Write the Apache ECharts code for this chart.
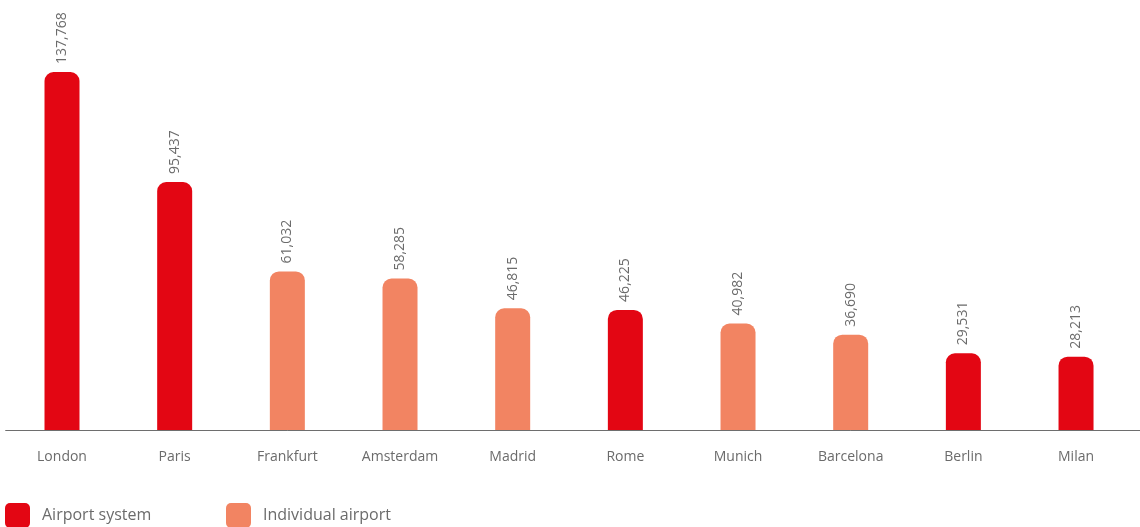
<!DOCTYPE html>
<html>
<head>
<meta charset="utf-8">
<style>
  html, body { margin: 0; padding: 0; background: #fff; }
  #chart { width: 1140px; height: 527px; }
</style>
<script src="https://cdn.jsdelivr.net/npm/echarts@6/dist/echarts.min.js"></script>
</head>
<body>
<div id="chart"></div>
<script>
// Passengers by city (thousands), ranked
const cities = ['London', 'Paris', 'Frankfurt', 'Amsterdam', 'Madrid', 'Rome', 'Munich', 'Barcelona', 'Berlin', 'Milan'];
const passengers = [137768, 95437, 61032, 58285, 46815, 46225, 40982, 36690, 29531, 28213];
// 'S' = airport system (several airports), 'I' = individual airport
const airportKind = ['S', 'S', 'I', 'I', 'I', 'S', 'I', 'I', 'S', 'S'];
const seriesNames = ['Airport system', 'Individual airport'];

const RED = '#e30613';
const SALMON = '#f28462';
const TEXT = '#6b6b6b';
const FONT = '"Open Sans", "Noto Sans", sans-serif';
const LEGEND_ICON = 'path://M5,0 H20 A5,5 0 0 1 25,5 V20 A5,5 0 0 1 20,25 H5 A5,5 0 0 1 0,20 V5 A5,5 0 0 1 5,0 Z';

const chart = echarts.init(document.getElementById('chart'), null, { renderer: 'canvas' });

function seriesFor(kind, name, color) {
  return {
    name: name,
    type: 'bar',
    stack: 'city',
    barWidth: 35,
    data: passengers.map((v, i) => airportKind[i] === kind ? v : '-'),
    itemStyle: { color: color, borderRadius: [9, 9, 0, 0] },
    label: {
      show: true,
      position: 'top',
      rotate: 90,
      align: 'left',
      verticalAlign: 'middle',
      distance: 8,
      color: TEXT,
      fontFamily: FONT,
      fontSize: 14,
      formatter: p => p.value.toLocaleString('en-US')
    }
  };
}

function legendFor(name, left) {
  return {
    data: [name],
    left: left,
    top: 503,
    padding: 0,
    itemWidth: 25,
    itemHeight: 25,
    icon: LEGEND_ICON,
    textStyle: { color: TEXT, fontFamily: FONT, fontSize: 16, padding: [0, 0, 0, 7] }
  };
}

const option = {
  animation: false,
  grid: { left: 5.67, width: 1126.7, top: 72, height: 358, containLabel: false },
  xAxis: {
    type: 'category',
    data: cities,
    axisLine: { show: true, lineStyle: { color: '#6e6e6e', width: 1 } },
    axisTick: { show: false },
    axisLabel: { color: TEXT, fontFamily: FONT, fontSize: 14, margin: 20 }
  },
  yAxis: {
    type: 'value',
    min: 0,
    max: value => value.max,
    show: false,
    splitLine: { show: false }
  },
  legend: [
    legendFor(seriesNames[0], 5),
    legendFor(seriesNames[1], 226)
  ],
  graphic: [
    {
      type: 'line',
      shape: { x1: 1131, y1: 430.5, x2: 1140, y2: 430.5 },
      style: { stroke: '#6e6e6e', lineWidth: 1 }
    }
  ],
  series: [
    seriesFor('S', seriesNames[0], RED),
    seriesFor('I', seriesNames[1], SALMON)
  ]
};

chart.setOption(option);
</script>
</body>
</html>
